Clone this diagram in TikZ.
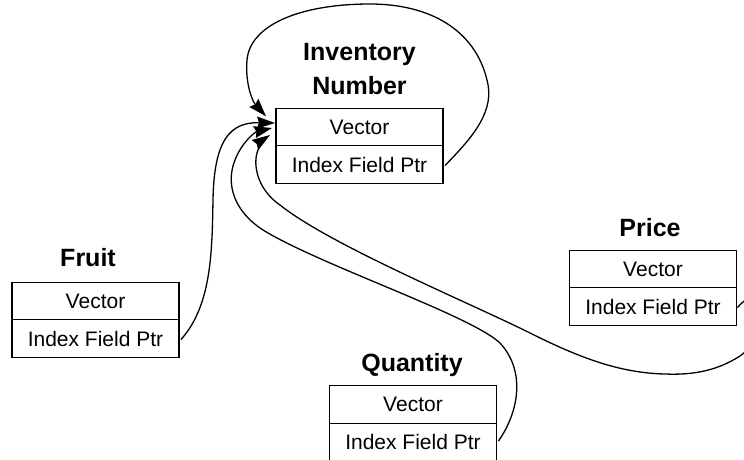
\documentclass[tikz,border=0pt]{standalone}
\usepackage{fontspec}
\setmainfont{Liberation Sans}
\usetikzlibrary{arrows.meta,calc}
\begin{document}
\begin{tikzpicture}[x=1pt,y=-1pt,
  row/.style={draw,line width=1.2pt,minimum width=167pt,minimum height=37.5pt,inner sep=0pt,outer sep=0pt,font=\fontsize{21}{25}\selectfont},
  title/.style={font=\fontsize{25}{34}\selectfont\bfseries,align=center,inner sep=0pt,text depth=0pt,anchor=south},
  link/.style={line width=1.3pt,-{Stealth[length=18pt,width=12pt,inset=2pt]}}]
\useasboundingbox (0,0) rectangle (744,459);
\clip (0,0) rectangle (744,459);
% Inventory Number
\node[row] (inv-v) at (359.5,127) {Vector};
\node[row,anchor=north] (inv-i) at (inv-v.south) {Index Field Ptr};
\node[title] (inv-t) at (359.5,95) {Inventory\\Number};
% Fruit
\node[row] (fr-v) at (95.5,301) {Vector};
\node[row,anchor=north] (fr-i) at (fr-v.south) {Index Field Ptr};
\node[title] (fr-t) at (88,267) {Fruit};
% Price
\node[row] (pr-v) at (653,269) {Vector};
\node[row,anchor=north] (pr-i) at (pr-v.south) {Index Field Ptr};
\node[title] (pr-t) at (650,237) {Price};
% Quantity
\node[row] (qu-v) at (413,404.5) {Vector};
\node[row,anchor=north] (qu-i) at (qu-v.south) {Index Field Ptr};
\node[title] (qu-t) at (412,372) {Quantity};
% self loop
\draw[link] ($(inv-i.east)+(2,1)$) .. controls (475,135) and (495,110) .. (487,80)
  .. controls (475,30) and (430,4) .. (370,4)
  .. controls (300,4) and (250,25) .. (247,60)
  .. controls (245,85) and (253,102) .. ($(inv-v.north west)+(-10,8)$);
% Fruit
\draw[link] ($(fr-i.east)+(2,1)$) .. controls (212,305) and (212,250) .. (213,200)
  .. controls (214,140) and (230,122) .. ($(inv-v.west)+(-1,-4)$);
% Quantity
\draw[link] ($(qu-i.east)+(2,-1)$) .. controls (520,410) and (525,370) .. (500,343)
  .. controls (470,315) and (320,265) .. (263,230)
  .. controls (235,212) and (225,185) .. (235,160)
  .. controls (242,142) and (255,132) .. ($(inv-v.west)+(-4,1)$);
% Price
\draw[link] ($(pr-i.east)+(1,1)$) .. controls (765,275) and (770,335) .. (740,356)
  .. controls (715,372) and (690,375) .. (665,374)
  .. controls (620,373) and (580,358) .. (530,333)
  .. controls (470,303) and (330,245) .. (280,205)
  .. controls (258,190) and (252,165) .. (258,150)
  .. controls (261,143) and (264,139) .. ($(inv-v.west)+(-6,8)$);
\end{tikzpicture}
\end{document}
